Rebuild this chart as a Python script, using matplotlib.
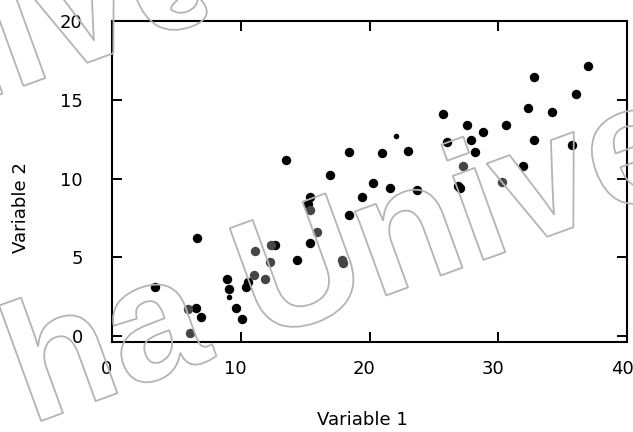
import matplotlib
matplotlib.use('Agg')
import matplotlib.pyplot as plt
import matplotlib.patheffects as pe
import matplotlib.transforms as mtransforms

# points drawn in full black
var1 = [13.5, 18.4, 16.9, 15.35, 19.4, 20.3, 37.0, 32.8, 36.05, 32.3, 34.2,
        25.7, 27.6, 30.6, 28.8, 26.05, 27.9, 32.8, 35.7, 20.95, 23.0, 28.2,
        31.95, 21.6, 23.7, 26.9, 27.05, 15.2, 18.4, 6.6, 15.35, 12.65, 14.35,
        10.6, 10.4, 8.9, 9.1, 3.35, 6.55, 6.9, 9.6, 10.1]
var2 = [11.2, 11.7, 10.2, 8.8, 8.8, 9.7, 17.15, 16.45, 15.35, 14.5, 14.25,
        14.1, 13.4, 13.4, 12.95, 12.3, 12.45, 12.45, 12.15, 11.6, 11.75, 11.7,
        10.8, 9.4, 9.25, 9.55, 9.4, 8.4, 7.7, 6.2, 5.9, 5.75, 4.8,
        3.4, 3.1, 3.6, 3.0, 3.1, 1.8, 1.2, 1.75, 1.05]

# points seen through the watermark (lighter)
var1_shaded = [27.3, 30.3, 15.4, 15.9, 11.1, 12.35, 12.25, 17.85, 17.95,
               11.85, 11.0, 5.9, 6.05]
var2_shaded = [10.8, 9.8, 8.0, 6.6, 5.4, 5.75, 4.7, 4.8, 4.65,
               3.6, 3.85, 1.7, 0.2]

# two tiny points
var1_small = [22.05, 9.05]
var2_small = [12.7, 2.5]

xticks = [0, 10, 20, 30, 40]
yticks = [0, 5, 10, 15, 20]

fig = plt.figure(figsize=(6.33, 4.32), dpi=100)
ax = fig.add_axes([112 / 633, 1 - 342 / 432, 515 / 633, 321 / 432])

ax.scatter(var1, var2, s=46, color='black', linewidths=0, zorder=3)
ax.scatter(var1_shaded, var2_shaded, s=46, color='#454545', linewidths=0, zorder=3)
ax.scatter(var1_small, var2_small, s=16, color='black', linewidths=0, zorder=3)

ax.set_xlim(0, 40)
ax.set_ylim(-0.38, 20)
ax.set_xticks(xticks)
ax.set_yticks(yticks)
ax.tick_params(direction='in', length=7, width=1.4, top=True, right=True,
               labelsize=13)
ax.tick_params(axis='x', pad=13)
ax.tick_params(axis='y', pad=21)
for sp in ax.spines.values():
    sp.set_linewidth(1.5)

# x tick labels sit a little left of their ticks
shift = mtransforms.ScaledTranslation(-5 / 100, 0, fig.dpi_scale_trans)
for lab in ax.get_xticklabels():
    lab.set_transform(lab.get_transform() + shift)

ax.set_xlabel('Variable 1', fontsize=13)
ax.xaxis.set_label_coords((362 - 112) / 515, (342 - 411) / 321)
ax.set_ylabel('Variable 2', fontsize=13)
ax.yaxis.set_label_coords((30 - 112) / 515, (342 - 208) / 321)

# outlined watermark
outline = [pe.Stroke(linewidth=1.3, foreground='#b4b4b4')]
for x0, y0 in [(30 / 633, 1 - 425 / 432), (-430 / 633, 1 - 251 / 432)]:
    fig.text(x0, y0, 'ha Unive', fontsize=122, family='Liberation Sans',
             weight='bold', rotation=20, rotation_mode='anchor',
             ha='left', va='baseline', color='none', path_effects=outline,
             zorder=10)

fig.savefig('out.png', dpi=100)
